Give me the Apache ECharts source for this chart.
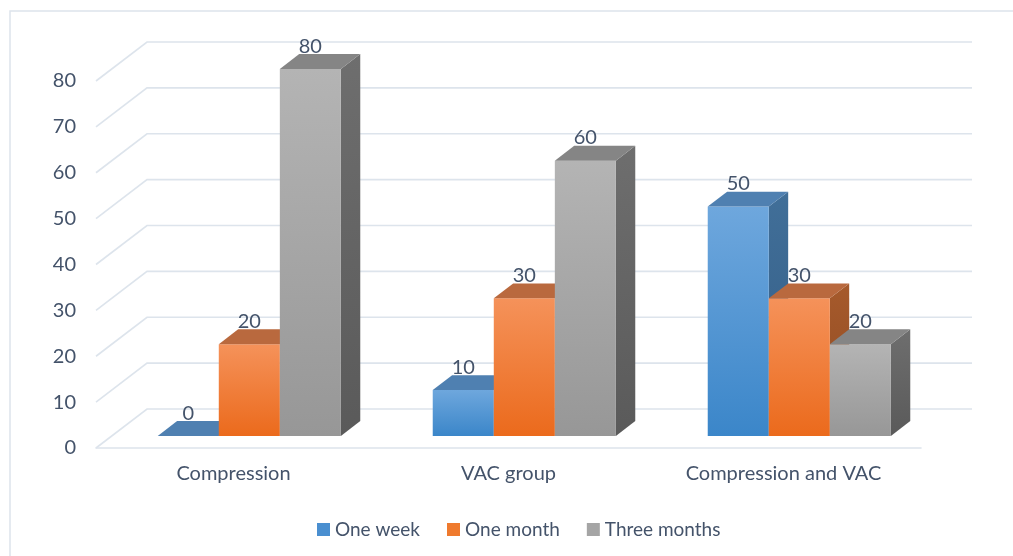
<!DOCTYPE html>
<html>
<head>
<meta charset="utf-8">
<script src="https://cdn.jsdelivr.net/npm/echarts@6/dist/echarts.min.js"></script>
<style>
html,body{margin:0;padding:0;background:#ffffff;}
#chart{width:1013px;height:556px;}
</style>
</head>
<body>
<div id="chart"></div>
<script>
// ---- data ----
const categories = ['Compression', 'VAC group', 'Compression and VAC'];
const seriesNames = ['One week', 'One month', 'Three months'];
const oneWeek = [0, 10, 50];
const oneMonth = [20, 30, 30];
const threeMonths = [80, 60, 20];
const yTicks = [0, 10, 20, 30, 40, 50, 60, 70, 80];

// ---- styling constants ----
const WALL_DX = 51, WALL_DY = 39;        // depth of the floor (oblique projection)
const BAR_FRONT = 0.31, BAR_BACK = 0.69; // bar depth position as fraction of floor depth
const BAR_FRAC = 0.222;                  // bar width as fraction of a category band
const TEXT = '#44536a';
const FONT = 'Lato';

const palettes = [
  {front: ['#6ea7dd', '#3b86c9'], top: '#4f80b1', side: ['#416f99', '#335c84'], legend: '#4a8fd0'},
  {front: ['#f5925a', '#eb6a1c'], top: '#b9693e', side: ['#a65a2c', '#8f4a20'], legend: '#ef7a2e'},
  {front: ['#b4b4b4', '#979797'], top: '#858585', side: ['#6e6e6e', '#5a5a5a'], legend: '#a5a5a5'}
];

function wallRender(params, api) {
  const cs = params.coordSys;
  const y = api.coord([0, api.value(1)])[1];
  const pts = [[cs.x, y], [cs.x + WALL_DX, y - WALL_DY], [cs.x + cs.width + WALL_DX, y - WALL_DY]];
  return {
    type: 'polyline',
    shape: {points: pts},
    style: {stroke: '#dde4ec', lineWidth: 1.6, fill: null}
  };
}

function makeBarRender(s) {
  const pal = palettes[s];
  return function (params, api) {
    const ci = api.value(0), v = api.value(1);
    const base = api.coord([ci, 0]);
    const top = api.coord([ci, v]);
    const band = api.size([1, 0])[0];
    const bw = band * BAR_FRAC;
    const ox = WALL_DX * BAR_FRONT, oy = WALL_DY * BAR_FRONT;
    const dx = WALL_DX * (BAR_BACK - BAR_FRONT), dy = WALL_DY * (BAR_BACK - BAR_FRONT);
    const x0 = base[0] - 1.5 * bw + s * bw + ox;
    const x1 = x0 + bw;
    const yb = base[1] - oy;
    const yt = top[1] - oy;
    const children = [];
    if (yb - yt > 0.5) {
      children.push({
        type: 'polygon',
        shape: {points: [[x1, yt], [x1 + dx, yt - dy], [x1 + dx, yb - dy], [x1, yb]]},
        style: {fill: new echarts.graphic.LinearGradient(0, 0, 0, 1, [
          {offset: 0, color: pal.side[0]}, {offset: 1, color: pal.side[1]}])}
      });
      children.push({
        type: 'rect',
        shape: {x: x0, y: yt, width: bw, height: yb - yt},
        style: {fill: new echarts.graphic.LinearGradient(0, 0, 0, 1, [
          {offset: 0, color: pal.front[0]}, {offset: 1, color: pal.front[1]}])}
      });
    }
    children.push({
      type: 'polygon',
      shape: {points: [[x0, yt], [x1, yt], [x1 + dx, yt - dy], [x0 + dx, yt - dy]]},
      style: {fill: pal.top}
    });
    children.push({
      type: 'text',
      style: {
        text: String(v), x: x0 + bw / 2, y: yt - dy - 8,
        align: 'center', verticalAlign: 'middle',
        fill: TEXT, font: '20px ' + FONT
      }
    });
    return {type: 'group', children: children};
  };
}

const valueSets = [oneWeek, oneMonth, threeMonths];
const barSeries = valueSets.map(function (vals, s) {
  return {
    type: 'custom',
    name: seriesNames[s],
    z: 3 + s,
    itemStyle: {color: palettes[s].legend},
    renderItem: makeBarRender(s),
    encode: {x: 0, y: 1},
    data: vals.map(function (v, i) { return [i, v]; })
  };
});

const chart = echarts.init(document.getElementById('chart'), null, {renderer: 'canvas'});
chart.setOption({
  backgroundColor: '#ffffff',
  animation: false,
  graphic: [{
    type: 'rect', silent: true, z: 0,
    shape: {x: 10, y: 11, width: 1200, height: 800},
    style: {fill: null, stroke: '#dde4ec', lineWidth: 1.5}
  }],
  grid: {left: 96, right: 92, top: 81, bottom: 108, containLabel: false},
  legend: {
    data: seriesNames,
    left: 312, top: 515,
    icon: 'rect', itemWidth: 13, itemHeight: 13, itemGap: 27,
    textStyle: {color: TEXT, fontSize: 19, fontFamily: FONT}
  },
  xAxis: {
    type: 'category',
    data: categories,
    axisLine: {show: true, lineStyle: {color: '#dde4ec', width: 1.6}},
    axisTick: {show: false},
    axisLabel: {margin: 16, color: TEXT, fontSize: 20, fontFamily: FONT},
    splitLine: {show: false}
  },
  yAxis: {
    type: 'value',
    min: 0, max: 80, interval: 10,
    axisLine: {show: false},
    axisTick: {show: false},
    splitLine: {show: false},
    axisLabel: {margin: 20, color: TEXT, fontSize: 20, fontFamily: FONT}
  },
  series: [{
    type: 'custom',
    name: 'walls',
    z: 1,
    silent: true,
    renderItem: wallRender,
    encode: {x: 0, y: 1},
    data: yTicks.map(function (t) { return [0, t]; })
  }].concat(barSeries)
});
</script>
</body>
</html>
